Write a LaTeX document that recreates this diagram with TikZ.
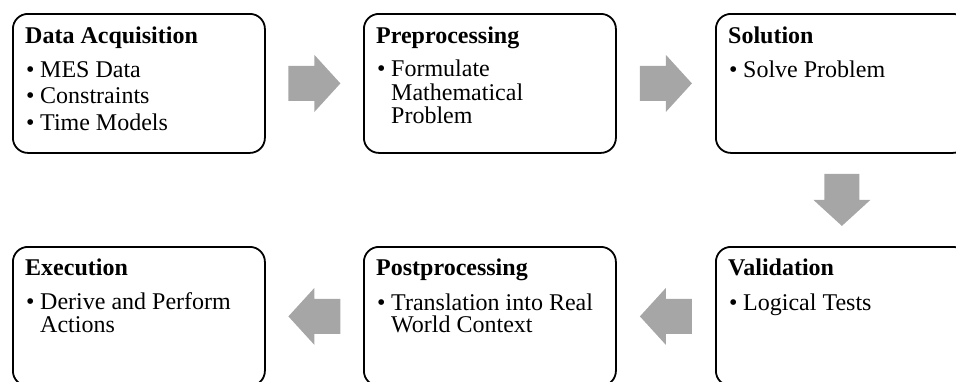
\documentclass[tikz,border=0pt]{standalone}
\usepackage{fontspec}
\setmainfont{Liberation Serif}
\usetikzlibrary{calc}
\definecolor{arrowgray}{HTML}{A6A6A6}
\begin{document}
\begin{tikzpicture}[x=1pt,y=-1pt,
  stagebox/.style={draw=black,line width=1.8pt,rounded corners=15pt,minimum width=252pt,minimum height=139pt,anchor=north west,inner sep=0pt},
  ttl/.style={anchor=base west,inner sep=0pt,font=\fontsize{24}{28}\selectfont\bfseries},
  itm/.style={anchor=base west,inner sep=0pt,font=\fontsize{24}{28}\selectfont},
  blockfill/.style={fill=arrowgray}
]
\useasboundingbox (0,0) rectangle (956,381);
\clip (0,0) rectangle (956,381);
\newcommand\bulitem[4]{%
  \node[itm] (#1-#2b) at ($(#1.north west)+(14,#3)$) {\textbullet};
  \node[itm] (#1-#2) at ($(#1.north west)+(28,#3)$) {#4};}
\newcommand\contline[4]{%
  \node[itm] (#1-#2) at ($(#1.north west)+(28,#3)$) {#4};}
\newcommand\blockarrow[2]{%
  \fill[blockfill,shift={(#1)},rotate=#2] (-26,-17.5) -- (0,-17.5) -- (0,-28.5) -- (26,0) -- (0,28.5) -- (0,17.5) -- (-26,17.5) -- cycle;}

% boxes
\node[stagebox] (b1) at (12,13) {};
\node[stagebox] (b2) at (363,13) {};
\node[stagebox] (b3) at (715,13) {};
\node[stagebox] (b4) at (12,246) {};
\node[stagebox] (b5) at (363,246) {};
\node[stagebox] (b6) at (715,246) {};

% texts
\node[ttl] (t1) at ($(b1.north west)+(13,30)$) {Data Acquisition};
\bulitem{b1}{i1}{64}{MES Data}
\bulitem{b1}{i2}{90}{Constraints}
\bulitem{b1}{i3}{117}{Time Models}

\node[ttl] (t2) at ($(b2.north west)+(13,30)$) {Preprocessing};
\bulitem{b2}{i1}{63}{Formulate}
\contline{b2}{i2}{87}{Mathematical}
\contline{b2}{i3}{110}{Problem}

\node[ttl] (t3) at ($(b3.north west)+(13,30)$) {Solution};
\bulitem{b3}{i1}{64}{Solve Problem}

\node[ttl] (t4) at ($(b4.north west)+(13,29)$) {Execution};
\bulitem{b4}{i1}{63}{Derive and Perform}
\contline{b4}{i2}{86}{Actions}

\node[ttl] (t5) at ($(b5.north west)+(13,29)$) {Postprocessing};
\bulitem{b5}{i1}{64}{Translation into Real}
\contline{b5}{i2}{86}{World Context}

\node[ttl] (t6) at ($(b6.north west)+(13,29)$) {Validation};
\bulitem{b6}{i1}{64}{Logical Tests}

% arrows
\coordinate (a1) at ($(b1.east)!0.5!(b2.west)$);
\coordinate (a2) at ($(b2.east)!0.5!(b3.west)$);
\coordinate (a3) at ($(b3.south)!0.5!(b6.north)$);
\coordinate (a4) at ($(b6.west)!0.5!(b5.east)$);
\coordinate (a5) at ($(b5.west)!0.5!(b4.east)$);
\blockarrow{a1}{0}
\blockarrow{a2}{0}
\blockarrow{a3}{-90}
\blockarrow{a4}{180}
\blockarrow{a5}{180}
\end{tikzpicture}
\end{document}
